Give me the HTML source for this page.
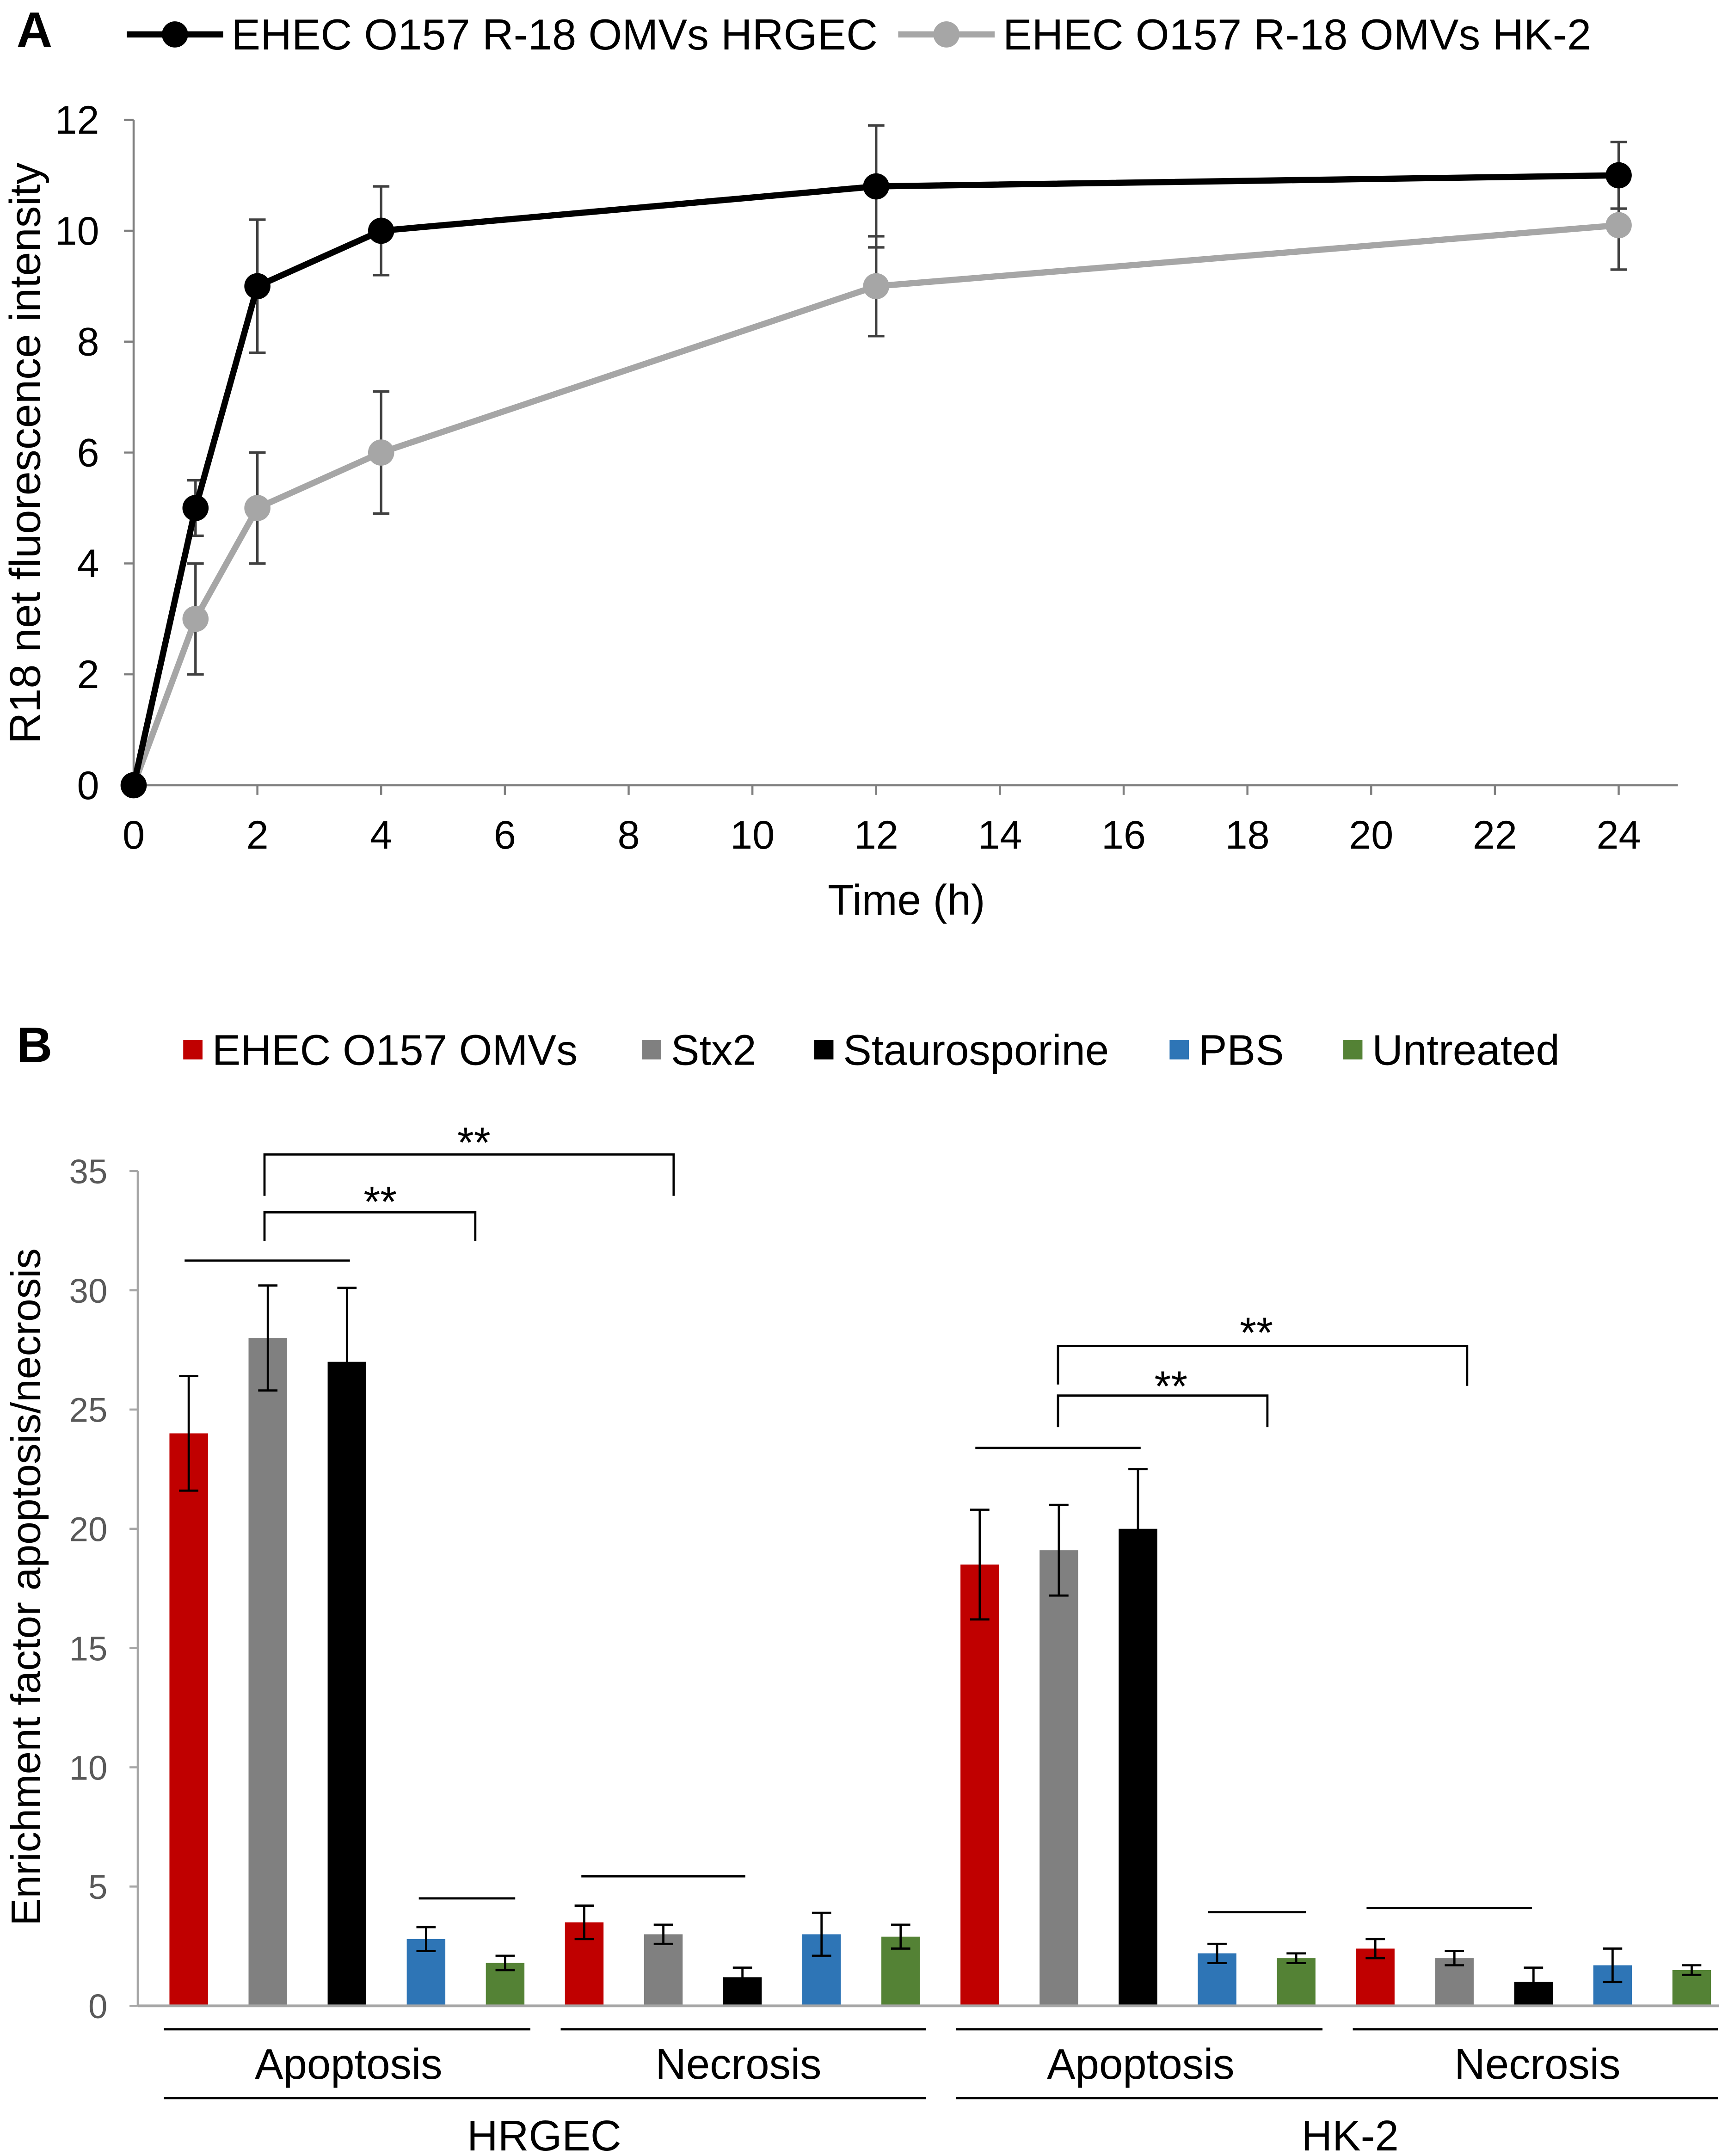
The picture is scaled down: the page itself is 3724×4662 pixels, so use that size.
<!DOCTYPE html>
<html><head><meta charset="utf-8"><style>
html,body{margin:0;padding:0;background:#fff}
svg{display:block}
text{font-family:"Liberation Sans",sans-serif}
</style></head><body>
<svg id="fig" width="3724" height="4662" viewBox="0 0 1250 1565" preserveAspectRatio="none" xmlns="http://www.w3.org/2000/svg">
<g id="panelA"></g>
<g id="panelB"></g>
</svg>
<script>
// ---------- Panel A data ----------
const timesA = [0, 1, 2, 4, 12, 24];
const hrgecVals = [0, 5, 9, 10, 10.8, 11];
const hrgecErr = [0, 0.5, 1.2, 0.8, 1.1, 0.6];
const hk2Vals = [0, 3, 5, 6, 9, 10.1];
const hk2Err = [0, 1, 1, 1.1, 0.9, 0.8];
const xTicksA = [0,2,4,6,8,10,12,14,16,18,20,22,24];
const yTicksA = [0,2,4,6,8,10,12];

// ---------- Panel B data ----------
const groupLabelsB = ["HRGEC Apoptosis","HRGEC Necrosis","HK-2 Apoptosis","HK-2 Necrosis"];
const seriesNamesB = ["EHEC O157 OMVs","Stx2","Staurosporine","PBS","Untreated"];
const omvVals = [24, 3.5, 18.5, 2.4];
const omvErr = [2.4, 0.7, 2.3, 0.4];
const stx2Vals = [28, 3.0, 19.1, 2.0];
const stx2Err = [2.2, 0.4, 1.9, 0.3];
const stauroVals = [27, 1.2, 20, 1.0];
const stauroErr = [3.1, 0.4, 2.5, 0.6];
const pbsVals = [2.8, 3.0, 2.2, 1.7];
const pbsErr = [0.5, 0.9, 0.4, 0.7];
const untreatedVals = [1.8, 2.9, 2.0, 1.5];
const untreatedErr = [0.3, 0.5, 0.2, 0.2];
const yTicksB = [0,5,10,15,20,25,30,35];

const NS = "http://www.w3.org/2000/svg";
function mk(parent, tag, attrs, txt){
  const e = document.createElementNS(NS, tag);
  for (const k in attrs) e.setAttribute(k, attrs[k]);
  if (txt !== undefined) e.textContent = txt;
  parent.appendChild(e); return e;
}

// ===== Panel A =====
const A = document.getElementById('panelA');
const xA = t => 97 + t * (1175 - 97) / 24;
const yA = v => 570 - v * (570 - 87) / 12;

let t = mk(A,'text',{x:12,y:34,'font-size':36,'font-weight':'bold'},'A');
 

let ax = mk(A,'line',{x1:97,y1:87,x2:97,y2:570,stroke:'#7f7f7f','stroke-width':1.5});
 
ax = mk(A,'line',{x1:97,y1:570,x2:1218,y2:570,stroke:'#7f7f7f','stroke-width':1.5});
 
yTicksA.forEach(v=>{
  const l = mk(A,'line',{x1:90,y1:yA(v),x2:97,y2:yA(v),stroke:'#7f7f7f','stroke-width':1.5});
   
  const tx = mk(A,'text',{x:72,y:yA(v)+10,'font-size':29,'text-anchor':'end'},String(v));
   
});
xTicksA.forEach(v=>{
  const l = mk(A,'line',{x1:xA(v),y1:570,x2:xA(v),y2:577,stroke:'#7f7f7f','stroke-width':1.5});
   
  const tx = mk(A,'text',{x:xA(v),y:616,'font-size':29,'text-anchor':'middle'},String(v));
   
});
t = mk(A,'text',{x:658,y:664,'font-size':31,'text-anchor':'middle'},'Time (h)');
 
t = mk(A,'text',{x:0,y:0,'font-size':31.5,'text-anchor':'middle',transform:'translate(29,329) rotate(-90)'},'R18 net fluorescence intensity');
 

function drawSeriesA(vals, errs, color, errColor, name){
  const g = mk(A,'g',{});
   
  vals.forEach((v,i)=>{
    if (errs[i] > 0){
      const x = xA(timesA[i]);
      const e = mk(g,'path',{d:`M${x},${yA(v+errs[i])}V${yA(v-errs[i])}M${x-6},${yA(v+errs[i])}H${x+6}M${x-6},${yA(v-errs[i])}H${x+6}`,stroke:errColor,'stroke-width':1.8,fill:'none'});
       
    }
  });
  const pts = vals.map((v,i)=>xA(timesA[i])+','+yA(v)).join(' ');
  const pl = mk(g,'polyline',{points:pts,fill:'none',stroke:color,'stroke-width':4.5});
   
  vals.forEach((v,i)=>{
    const c = mk(g,'circle',{cx:xA(timesA[i]),cy:yA(v),r:9.5,fill:color});
     
  });
}
drawSeriesA(hk2Vals, hk2Err, '#a6a6a6', '#404040', 'hk2-series');
drawSeriesA(hrgecVals, hrgecErr, '#000000', '#404040', 'hrgec-series');

function legA(x0, color, label){
  const g = mk(A,'g',{});
   
  mk(g,'line',{x1:x0,y1:25,x2:x0+70,y2:25,stroke:color,'stroke-width':4.5});
  mk(g,'circle',{cx:x0+35,cy:25,r:9.5,fill:color});
  mk(g,'text',{x:x0+76,y:36,'font-size':31.5},label);
}
legA(92,'#000000','EHEC O157 R-18 OMVs HRGEC');
legA(652,'#a6a6a6','EHEC O157 R-18 OMVs HK-2');

// ===== Panel B =====
const B = document.getElementById('panelB');
const yB = v => 1456 - v * (1456 - 850) / 35;
const xB = i => 137 + i * (1228 - 137) / 19;
const colorsB = ['#c00000','#808080','#000000','#2e75b6','#548235'];
const valsB = [omvVals, stx2Vals, stauroVals, pbsVals, untreatedVals];
const errsB = [omvErr, stx2Err, stauroErr, pbsErr, untreatedErr];

t = mk(B,'text',{x:12,y:771,'font-size':36,'font-weight':'bold'},'B');
 

const legX = [133, 466, 591, 849, 975];
seriesNamesB.forEach((n,s)=>{
  const g = mk(B,'g',{});
   
  mk(g,'rect',{x:legX[s],y:755,width:14,height:14,fill:colorsB[s]});
  mk(g,'text',{x:legX[s]+21,y:773,'font-size':31},n);
});

ax = mk(B,'line',{x1:100,y1:850,x2:100,y2:1456,stroke:'#a6a6a6','stroke-width':1.5});
 
yTicksB.forEach(v=>{
  const l = mk(B,'line',{x1:94,y1:yB(v),x2:100,y2:yB(v),stroke:'#a6a6a6','stroke-width':1.5});
   
  const tx = mk(B,'text',{x:78,y:yB(v)+9,'font-size':25,'text-anchor':'end',fill:'#595959'},String(v));
   
});
t = mk(B,'text',{x:0,y:0,'font-size':30,'text-anchor':'middle',transform:'translate(29,1152) rotate(-90)'},'Enrichment factor apoptosis/necrosis');
 

for (let gi=0; gi<groupLabelsB.length; gi++){
  for (let s=0; s<5; s++){
    const i = gi*5+s, x = xB(i), v = valsB[s][gi], e = errsB[s][gi];
    const r = mk(B,'rect',{x:x-14,y:yB(v),width:28,height:yB(0)-yB(v),fill:colorsB[s]});
    
    
    const eb = mk(B,'path',{d:`M${x},${yB(v+e)}V${yB(v-e)}M${x-7},${yB(v+e)}H${x+7}M${x-7},${yB(v-e)}H${x+7}`,stroke:'#000','stroke-width':1.6,fill:'none'});
     
  }
}
ax = mk(B,'line',{x1:100,y1:1456,x2:1248,y2:1456,stroke:'#a6a6a6','stroke-width':2});
 

function ln(d,name){ const p = mk(B,'path',{d:d,stroke:'#000','stroke-width':1.6,fill:'none'});
    }
ln('M134,915H254','group-line');
ln('M304,1378H374','group-line');
ln('M422,1362H541','group-line');
ln('M708,1051H828','group-line');
ln('M877,1388H948','group-line');
ln('M992,1385H1112','group-line');
ln('M192,868V838H489V868','significance-bracket');
ln('M192,901V880H345V901','significance-bracket');
ln('M768,1005V977H1065V1006','significance-bracket');
ln('M768,1036V1013H920V1036','significance-bracket');
[[344,840],[276,883],[912,978],[850,1017]].forEach(p=>{
  const s = mk(B,'text',{x:p[0],y:p[1],'font-size':31,'text-anchor':'middle'},'**');
   
});

[[119,385,253,'Apoptosis'],[407,672,536,'Necrosis'],[694,960,828,'Apoptosis'],[982,1247,1116,'Necrosis']].forEach(c=>{
  ln(`M${c[0]},1473H${c[1]}`,'category-line');
  const s = mk(B,'text',{x:c[2],y:1509,'font-size':31,'text-anchor':'middle'},c[3]);
   
});
[[119,672,395,'HRGEC'],[694,1247,980,'HK-2']].forEach(c=>{
  ln(`M${c[0]},1523H${c[1]}`,'cell-line');
  const s = mk(B,'text',{x:c[2],y:1561,'font-size':31,'text-anchor':'middle'},c[3]);
   
});
</script>
</body></html>
